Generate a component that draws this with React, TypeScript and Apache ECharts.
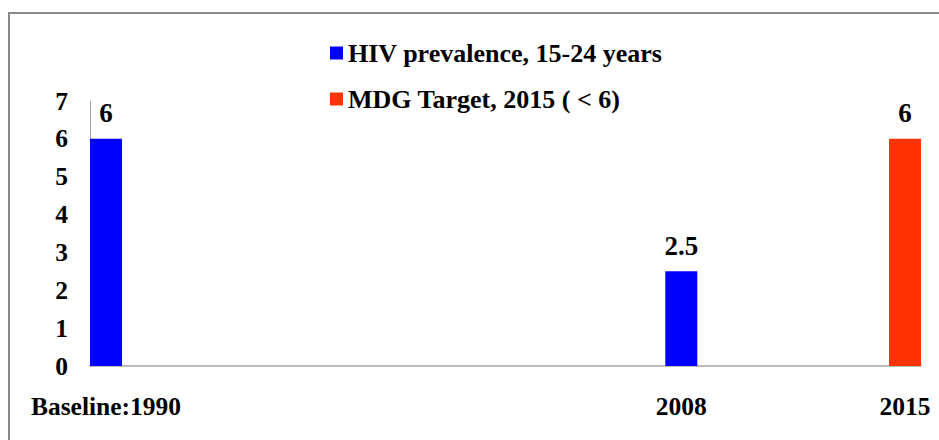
import React, { useEffect, useRef } from "react";
import * as echarts from "echarts";

const hivYears = [1990, 2008];
const hivValues = [6, 2.5];
const targetYears = [2015];
const targetValues = [6];
const xTickYears = [1990, 2008, 2015];
const xTickLabels = ["Baseline:1990", "2008", "2015"];
const seriesNames = ["HIV prevalence, 15-24 years", "MDG Target, 2015 ( < 6)"];

const FONT = "'Liberation Serif', 'Times New Roman', serif";

export default function App() {
  const ref = useRef<HTMLDivElement>(null);
  useEffect(() => {
    if (!ref.current) return;
    const chart = echarts.init(ref.current, null, { renderer: "svg" });
    const labelStyle = {
      show: true,
      position: "top",
      distance: 12,
      fontFamily: FONT,
      fontWeight: "bold",
      fontSize: 27,
      color: "#000",
    };
    chart.setOption({
      animation: false,
      backgroundColor: "#fff",
      graphic: [
        {
          type: "rect",
          shape: { x: 9, y: 13, width: 1000, height: 500 },
          style: { fill: "none", stroke: "#8a8a8a", lineWidth: 2 },
          silent: true,
        },
      ],
      legend: {
        orient: "vertical",
        left: 330,
        top: 40,
        padding: 0,
        itemWidth: 13,
        itemHeight: 13,
        itemGap: 20,
        icon: "rect",
        textStyle: {
          fontFamily: FONT,
          fontWeight: "bold",
          fontSize: 26,
          color: "#000",
          lineHeight: 25,
        },
        data: seriesNames,
      },
      grid: { left: 90, right: 18, top: 101, bottom: 74 },
      xAxis: {
        type: "value",
        min: 1989.5,
        max: 2015.5,
        splitLine: { show: false },
        axisTick: { show: false },
        axisLine: { show: true, lineStyle: { color: "#a6a6a6", width: 1.5 } },
        axisLabel: {
          customValues: xTickYears,
          margin: 27,
          fontFamily: FONT,
          fontWeight: "bold",
          fontSize: 25.5,
          color: "#000",
          formatter: (v: number) => {
            const i = xTickYears.indexOf(Math.round(v));
            return i >= 0 ? xTickLabels[i] : "";
          },
        },
      },
      yAxis: {
        type: "value",
        min: 0,
        max: 7,
        interval: 1,
        splitLine: { show: false },
        axisTick: { show: false },
        axisLine: { show: true, lineStyle: { color: "#a6a6a6", width: 1 } },
        axisLabel: {
          margin: 22,
          fontFamily: FONT,
          fontWeight: "bold",
          fontSize: 25.5,
          color: "#000",
        },
      },
      series: [
        {
          name: seriesNames[0],
          type: "bar",
          barWidth: 32,
          barGap: "-100%",
          itemStyle: { color: "#0000ff" },
          label: labelStyle,
          data: hivYears.map((y, i) => [y, hivValues[i]]),
        },
        {
          name: seriesNames[1],
          type: "bar",
          barWidth: 32,
          barGap: "-100%",
          itemStyle: { color: "#ff3300" },
          label: labelStyle,
          data: targetYears.map((y, i) => [y, targetValues[i]]),
        },
      ],
    });
    return () => chart.dispose();
  }, []);
  return (
    <div
      ref={ref}
      style={{ position: "absolute", left: 0, top: 0, width: 939, height: 440 }}
    />
  );
}
